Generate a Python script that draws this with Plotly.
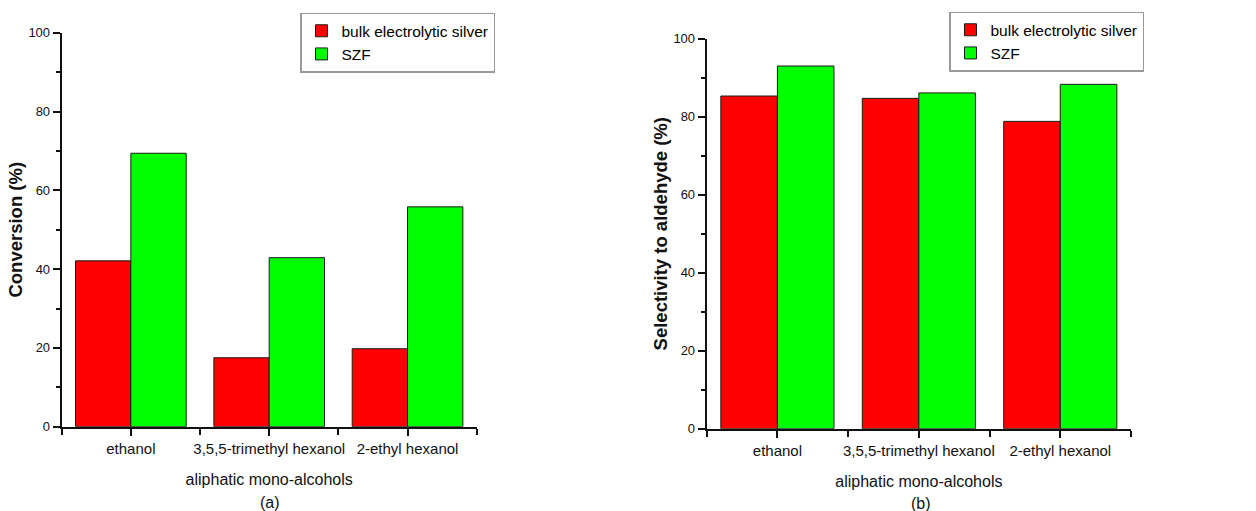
import plotly.graph_objects as go

# ---- data ----
categories = ["ethanol", "3,5,5-trimethyl hexanol", "2-ethyl hexanol"]
series_names = ["bulk electrolytic silver", "SZF"]
conversion_bulk = [42.1, 17.5, 19.8]
conversion_szf = [69.4, 42.9, 55.8]
selectivity_bulk = [85.3, 84.7, 78.8]
selectivity_szf = [93.0, 86.1, 88.3]
y_ticks = [0, 20, 40, 60, 80, 100]
y_minor = [10, 30, 50, 70, 90]
x_pos = list(range(len(categories)))
x_bounds = [-0.5, 0.5, 1.5, 2.5]

RED = "#FF0000"
GREEN = "#00FF00"
FONT = "Liberation Sans, Arial, sans-serif"
INK = "#111111"

W, H = 1256, 511

def px_x(v):
    return v / W

def px_y(v):
    return 1 - v / H

fig = go.Figure()

panels = [
    ("x", "y", "legend", conversion_bulk, conversion_szf),
    ("x2", "y2", "legend2", selectivity_bulk, selectivity_szf),
]
for xa, ya, lg, bulk, szf in panels:
    for name, vals, col in [(series_names[0], bulk, RED), (series_names[1], szf, GREEN)]:
        fig.add_trace(go.Bar(
            x=x_pos, y=vals, name=name, xaxis=xa, yaxis=ya, legend=lg,
            marker=dict(color=col, line=dict(color="#1a1a1a", width=1)),
        ))

def xaxis_cfg(domain, anchor, title):
    return dict(
        domain=domain, anchor=anchor, range=[-0.5, 2.5], automargin=False,
        tickmode="array", tickvals=x_pos, ticktext=categories,
        ticks="outside", ticklen=7, tickwidth=1.5, tickcolor=INK,
        showline=True, linewidth=2, linecolor=INK,
        showgrid=False, zeroline=False,
        tickfont=dict(family=FONT, size=15, color=INK),
        minor=dict(tickvals=x_bounds, ticks="outside", ticklen=6, tickwidth=1.5, tickcolor=INK, showgrid=False),
        title=dict(text=title, font=dict(family=FONT, size=16, color=INK), standoff=18),
        fixedrange=True,
    )

def yaxis_cfg(domain, anchor, title):
    return dict(
        domain=domain, anchor=anchor, range=[0, 100], automargin=False,
        tickmode="array", tickvals=y_ticks,
        ticks="outside", ticklen=7, tickwidth=1.5, tickcolor=INK,
        showline=True, linewidth=2, linecolor=INK,
        showgrid=False, zeroline=False,
        tickfont=dict(family=FONT, size=13, color=INK),
        minor=dict(tickvals=y_minor, ticks="outside", ticklen=4, tickwidth=1.5, tickcolor=INK, showgrid=False),
        title=dict(text="<b>" + title + "</b>", font=dict(family=FONT, size=18.5, color=INK), standoff=1),
        fixedrange=True,
    )

legend_common = dict(
    xanchor="left", yanchor="top", bgcolor="white",
    bordercolor="#9a9a9a", borderwidth=1.5,
    font=dict(family=FONT, size=15.5, color="#000000"),
    tracegroupgap=0, itemwidth=30, traceorder="normal",
)

fig.update_layout(
    width=W, height=H,
    margin=dict(l=0, r=0, t=0, b=0, autoexpand=False),
    paper_bgcolor="white", plot_bgcolor="white",
    barmode="group", bargap=0.2, bargroupgap=0.0,
    xaxis=xaxis_cfg([px_x(61.7), px_x(476.7)], "y", "aliphatic mono-alcohols"),
    yaxis=yaxis_cfg([px_y(426.7), px_y(32.7)], "x", "Conversion (%)"),
    xaxis2=xaxis_cfg([px_x(706.7), px_x(1131)], "y2", "aliphatic mono-alcohols"),
    yaxis2=yaxis_cfg([px_y(428.7), px_y(38.7)], "x2", "Selectivity to aldehyde (%)"),
    legend=dict(x=px_x(300), y=px_y(12.7), **legend_common),
    legend2=dict(x=px_x(949), y=px_y(11.7), **legend_common),
    annotations=[
        dict(text="(a)", x=px_x(270), y=px_y(502), xref="paper", yref="paper",
             showarrow=False, xanchor="center", yanchor="middle",
             font=dict(family=FONT, size=16, color=INK)),
        dict(text="(b)", x=px_x(921), y=px_y(503), xref="paper", yref="paper",
             showarrow=False, xanchor="center", yanchor="middle",
             font=dict(family=FONT, size=16, color=INK)),
    ],
    showlegend=True,
)

fig.write_html(
    "out.html",
    config={"displayModeBar": False},
    post_script="document.body.style.margin='0';document.body.style.overflow='hidden';",
)
